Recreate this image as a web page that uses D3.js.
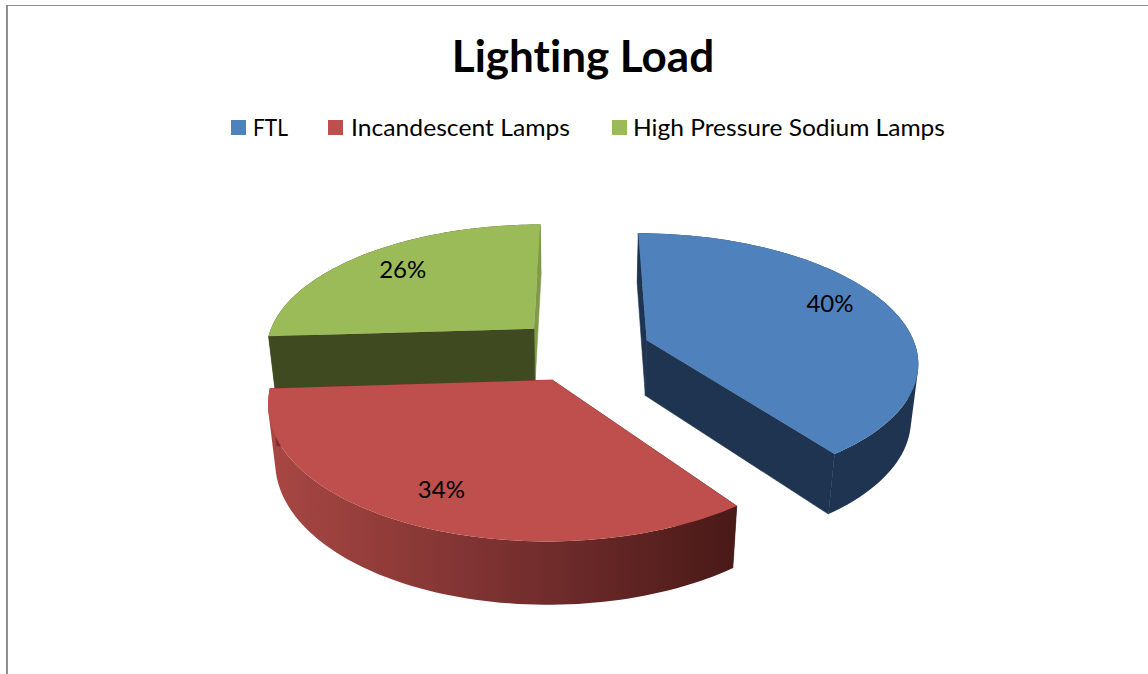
<!DOCTYPE html>
<html>
<head>
<meta charset="utf-8">
<script src="https://cdn.jsdelivr.net/npm/d3@7"></script>
<style>
  html, body { margin: 0; padding: 0; background: #fff; }
  svg { display: block; }
  text { font-family: Lato, "Open Sans", sans-serif; fill: #000; font-variant-ligatures: none; }
</style>
</head>
<body>
<svg id="chart" width="1148" height="674"></svg>
<script>
const titleText = "Lighting Load";
const categories = ["FTL", "Incandescent Lamps", "High Pressure Sodium Lamps"];
const shares = [40, 34, 26];
const topColors = ["#4F81BD", "#BF4F4C", "#9BBB59"];
const wallColors = ["#1F3450", "url(#redWall)", "#3F4A21"];
const sliverColors = ["#1F3450", "#7A2F2D", "#7F9A49"];
const legendSwatchX = [231, 328, 612];
const legendTextX = [253, 351, 633];
const legendTextWidth = [35, 219, 312];
const labelNudge = [[-3, -9], [-4, 3], [2, -1]];

// Camera model for the tilted pie: a unit-circle plane seen in perspective.
const cam = { cx: 582.5, horizon: -470, depthTop: 820, depthBottom: 895,
              radius: 270, persp: 0.154, drop: 0.022, explode: 0.253, labelAt: 0.77 };

function project(X, V, lower) {
  const w = 1 + cam.persp * V + (lower ? cam.drop : 0);
  return [cam.cx + cam.radius * X / w,
          cam.horizon + (lower ? cam.depthBottom : cam.depthTop) / w];
}

const svg = d3.select("#chart");

// Horizontal shading on the red outer wall.
const grad = svg.append("defs").append("linearGradient")
  .attr("id", "redWall").attr("gradientUnits", "userSpaceOnUse")
  .attr("x1", 270).attr("x2", 730).attr("y1", 0).attr("y2", 0);
[[0, "#A84743"], [0.5, "#7A3130"], [1, "#4A1A18"]].forEach(([o, c]) =>
  grad.append("stop").attr("offset", o).attr("stop-color", c));

// Frame: top and left edges of the chart area.
svg.append("line").attr("x1", 6).attr("x2", 1148).attr("y1", 5.5).attr("y2", 5.5)
  .attr("stroke", "#8e8e8e").attr("stroke-width", 1.2);
svg.append("line").attr("x1", 7).attr("x2", 7).attr("y1", 5).attr("y2", 674)
  .attr("stroke", "#8e8e8e").attr("stroke-width", 2);

// Title
svg.append("text").attr("x", 583).attr("y", 72).attr("text-anchor", "middle")
  .attr("font-size", 44).attr("font-weight", 700).text(titleText);

// Legend
const legend = svg.selectAll("g.legend").data(categories).join("g").attr("class", "legend");
legend.append("rect").attr("x", (d, i) => legendSwatchX[i]).attr("y", 120)
  .attr("width", 15).attr("height", 15).attr("fill", (d, i) => topColors[i]);
legend.append("text").attr("x", (d, i) => legendTextX[i]).attr("y", 136)
  .attr("font-size", 24)
  .attr("textLength", (d, i) => legendTextWidth[i])
  .attr("lengthAdjust", "spacingAndGlyphs")
  .text(d => d);

// Slices
const arcs = d3.pie().sort(null).startAngle(0).endAngle(2 * Math.PI)(shares);
const line = d3.line();

function sliceGeometry(a) {
  const mid = (a.startAngle + a.endAngle) / 2;
  const ox = cam.explode * Math.sin(mid), ov = cam.explode * Math.cos(mid);
  const rim = lower => {
    const n = 80;
    return d3.range(n + 1).map(k => {
      const t = a.startAngle + (a.endAngle - a.startAngle) * k / n;
      return project(ox + Math.sin(t), ov + Math.cos(t), lower);
    });
  };
  return {
    mid, ox, ov,
    apexTop: project(ox, ov, false), apexBottom: project(ox, ov, true),
    rimTop: rim(false), rimBottom: rim(true)
  };
}

function wall(layer, points, color) {
  layer.append("path").attr("d", line(points) + "Z")
    .attr("fill", color).attr("stroke", color).attr("stroke-width", 0.6);
}

// Curved wall as a single path of same-wound quads, so no seams show between
// steps and the silhouette between the two rims stays straight.
function curvedWall(layer, top, bottom, color) {
  const d = d3.range(top.length - 1).map(k => {
    const quad = [top[k], top[k + 1], bottom[k + 1], bottom[k]];
    if (d3.polygonArea(quad) < 0) quad.reverse();
    return line(quad) + "Z";
  }).join("");
  layer.append("path").attr("d", d).attr("fill", color).attr("fill-rule", "nonzero");
}

// Paint back to front: green, blue, then the red slice nearest the viewer.
[2, 0, 1].forEach(i => {
  const a = arcs[i];
  const g = sliceGeometry(a);
  const layer = svg.append("g");
  const last = g.rimTop.length - 1;
  curvedWall(layer, g.rimTop, g.rimBottom, wallColors[i]);
  // Wall along the closing radial edge, seen as a thin sliver on the far side.
  wall(layer, [g.apexTop, g.rimTop[last], g.rimBottom[last], g.apexBottom], sliverColors[i]);
  // Wall along the opening radial edge.
  wall(layer, [g.apexTop, g.rimTop[0], g.rimBottom[0], g.apexBottom], wallColors[i]);
  // Top face.
  layer.append("path")
    .attr("d", line([g.apexTop].concat(g.rimTop)) + "Z")
    .attr("fill", topColors[i]);
  // Value label.
  const p = project(g.ox + cam.labelAt * Math.sin(g.mid), g.ov + cam.labelAt * Math.cos(g.mid), false);
  layer.append("text").attr("x", p[0] + labelNudge[i][0]).attr("y", p[1] + labelNudge[i][1]).attr("dy", "0.36em")
    .attr("text-anchor", "middle").attr("font-size", 24)
    .text(d3.format(".0f")(shares[i] / d3.sum(shares) * 100) + "%");
});
</script>
</body>
</html>
